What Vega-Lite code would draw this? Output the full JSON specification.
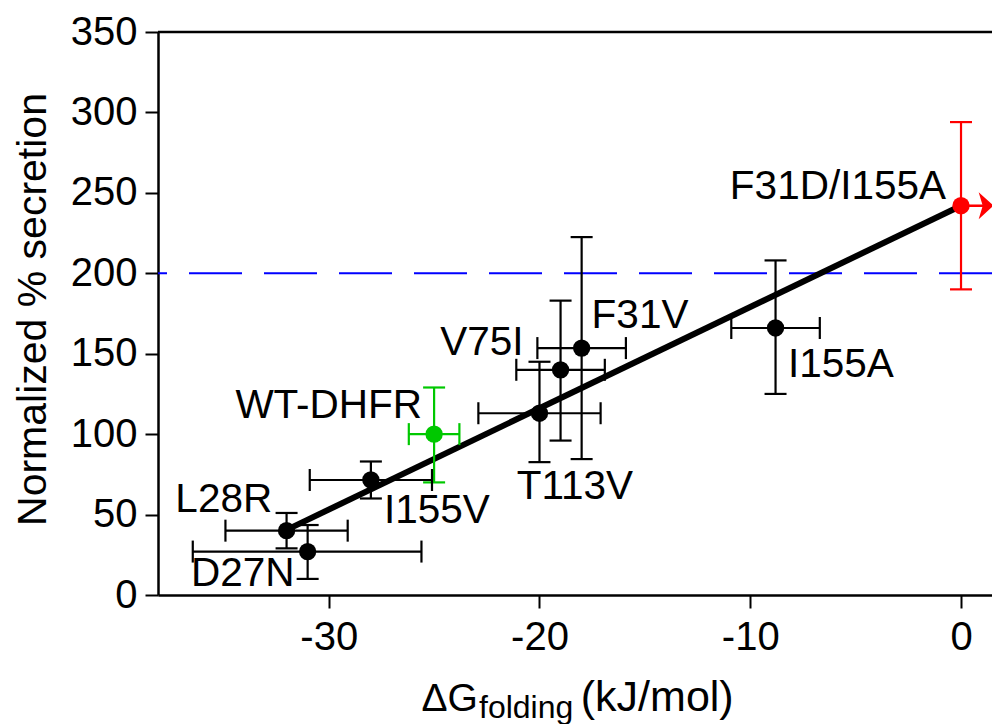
{
  "$schema": "https://vega.github.io/schema/vega-lite/v6.json",
  "width": 834,
  "height": 563,
  "autosize": {"type": "none"},
  "padding": {"left": 158, "top": 32, "right": 0, "bottom": 129},
  "background": "white",
  "config": {
    "view": {"stroke": null},
    "font": "Liberation Sans",
    "axis": {
      "grid": false,
      "domainColor": "black",
      "domainWidth": 2.5,
      "tickColor": "black",
      "tickWidth": 2,
      "tickSize": 13,
      "labelFont": "Liberation Sans",
      "labelFontSize": 40,
      "labelColor": "black",
      "titleFont": "Liberation Sans",
      "titleFontSize": 41,
      "titleFontWeight": "normal",
      "titleColor": "black"
    }
  },
  "datasets": {
    "points": [
      {"name": "L28R", "group": "mutant", "x": -32.0, "y": 40, "xlo": -34.9, "xhi": -29.1, "ylo": 29, "yhi": 51, "lx": -34.98, "ly": 51.6},
      {"name": "D27N", "group": "mutant", "x": -31.0, "y": 27, "xlo": -36.45, "xhi": -25.6, "ylo": 10, "yhi": 43.5, "lx": -34.08, "ly": 5.6},
      {"name": "I155V", "group": "mutant", "x": -28.0, "y": 71.5, "xlo": -30.9, "xhi": -25.1, "ylo": 60, "yhi": 83, "lx": -24.87, "ly": 44.7},
      {"name": "WT-DHFR", "group": "wt", "x": -25.0, "y": 100, "xlo": -26.2, "xhi": -23.8, "ylo": 70, "yhi": 129, "lx": -30.0, "ly": 110},
      {"name": "T113V", "group": "mutant", "x": -20.0, "y": 113, "xlo": -22.9, "xhi": -17.1, "ylo": 82.6, "yhi": 145, "lx": -18.32, "ly": 59.7},
      {"name": "V75I", "group": "mutant", "x": -19.0, "y": 140, "xlo": -21.1, "xhi": -16.9, "ylo": 96, "yhi": 183, "lx": -22.73, "ly": 149.2},
      {"name": "F31V", "group": "mutant", "x": -18.0, "y": 153.5, "xlo": -20.1, "xhi": -15.9, "ylo": 84.5, "yhi": 222.5, "lx": -15.23, "ly": 166},
      {"name": "I155A", "group": "mutant", "x": -8.8, "y": 166, "xlo": -10.9, "xhi": -6.7, "ylo": 125, "yhi": 208, "lx": -5.7, "ly": 135.5},
      {"name": "F31D/I155A", "group": "double", "x": 0.0, "y": 242, "xlo": null, "xhi": null, "ylo": 190, "yhi": 294, "lx": -5.84, "ly": 246}
    ],
    "fit": [
      {"x": -32.0, "y": 40.5},
      {"x": 0.0, "y": 242}
    ]
  },
  "layer": [
    {
      "data": {"name": "points"},
      "mark": {"type": "circle", "size": 0, "opacity": 0},
      "encoding": {
        "x": {"field": "x", "type": "quantitative",
          "scale": {"domain": [-38.1, 1.47], "nice": false, "zero": false},
          "axis": {"title": null, "values": [-30, -20, -10, 0], "labelPadding": 9, "labelFlush": false,
            "labelExpr": "'' + datum.value"}},
        "y": {"field": "y", "type": "quantitative", "title": "Normalized % secretion",
          "scale": {"domain": [0, 350], "nice": false, "zero": false},
          "axis": {"title": "Normalized % secretion", "values": [0, 50, 100, 150, 200, 250, 300, 350],
            "labelPadding": 8, "titleX": -113, "titleY": 277, "titleBaseline": "alphabetic", "titleAlign": "center", "titleAngle": -90}}
      }
    },
    {
      "data": {"values": [{"y": 350}]},
      "mark": {"type": "rule", "color": "black", "strokeWidth": 2.5},
      "encoding": {"y": {"field": "y", "type": "quantitative", "title": "Normalized % secretion"}}
    },
    {
      "data": {"values": [{"y": 200}]},
      "mark": {"type": "rule", "color": "#0000ff", "strokeWidth": 2, "strokeDash": [53, 22]},
      "encoding": {"y": {"field": "y", "type": "quantitative", "title": "Normalized % secretion"}}
    },
    {
      "data": {"name": "fit"},
      "mark": {"type": "line", "color": "black", "strokeWidth": 6},
      "encoding": {
        "x": {"field": "x", "type": "quantitative"},
        "y": {"field": "y", "type": "quantitative", "title": "Normalized % secretion"}
      }
    },
    {
      "data": {"name": "points"},
      "mark": {"type": "errorbar", "ticks": {"size": 22, "thickness": 2.2, "opacity": 1}, "rule": {"strokeWidth": 2.2, "opacity": 1}},
      "encoding": {
        "x": {"field": "x", "type": "quantitative"},
        "y": {"field": "ylo", "type": "quantitative", "title": "Normalized % secretion"},
        "y2": {"field": "yhi"},
        "color": {"field": "group", "type": "nominal", "legend": null,
          "scale": {"domain": ["mutant", "wt", "double"], "range": ["#000000", "#00c800", "#ff0000"]}}
      }
    },
    {
      "data": {"name": "points"},
      "transform": [{"filter": "datum.xlo != null"}],
      "mark": {"type": "errorbar", "ticks": {"size": 22, "thickness": 2.2, "opacity": 1}, "rule": {"strokeWidth": 2.2, "opacity": 1}},
      "encoding": {
        "y": {"field": "y", "type": "quantitative", "title": "Normalized % secretion"},
        "x": {"field": "xlo", "type": "quantitative"},
        "x2": {"field": "xhi"},
        "color": {"field": "group", "type": "nominal", "legend": null}
      }
    },
    {
      "data": {"name": "points"},
      "transform": [{"filter": "datum.group == 'double'"}],
      "mark": {"type": "rule", "color": "#ff0000", "strokeWidth": 2.5},
      "encoding": {
        "x": {"field": "x", "type": "quantitative"},
        "x2": {"datum": 1.1},
        "y": {"field": "y", "type": "quantitative", "title": "Normalized % secretion"}
      }
    },
    {
      "data": {"name": "points"},
      "transform": [{"filter": "datum.group == 'double'"}],
      "mark": {"type": "point", "filled": true, "opacity": 1, "color": "#ff0000", "size": 729,
        "shape": "M-0.55,-1 L0.55,0 L-0.55,1 L-0.25,0 Z", "strokeWidth": 0},
      "encoding": {
        "x": {"datum": 1.19},
        "y": {"field": "y", "type": "quantitative", "title": "Normalized % secretion"}
      }
    },
    {
      "data": {"name": "points"},
      "mark": {"type": "circle", "size": 300, "opacity": 1},
      "encoding": {
        "x": {"field": "x", "type": "quantitative"},
        "y": {"field": "y", "type": "quantitative", "title": "Normalized % secretion"},
        "color": {"field": "group", "type": "nominal", "legend": null}
      }
    },
    {
      "data": {"name": "points"},
      "mark": {"type": "text", "fontSize": 40.5, "align": "center", "baseline": "alphabetic", "color": "black", "font": "Liberation Sans"},
      "encoding": {
        "x": {"field": "lx", "type": "quantitative"},
        "y": {"field": "ly", "type": "quantitative", "title": "Normalized % secretion"},
        "text": {"field": "name"}
      }
    },
    {
      "data": {"values": [{"t": "ΔG", "x": -22.92, "y": -72.1}]},
      "mark": {"type": "text", "fontSize": 39, "align": "right", "baseline": "alphabetic", "color": "black", "font": "Liberation Sans"},
      "encoding": {
        "x": {"field": "x", "type": "quantitative"},
        "y": {"field": "y", "type": "quantitative", "title": "Normalized % secretion"},
        "text": {"field": "t"}
      }
    },
    {
      "data": {"values": [{"t": "folding", "x": -22.87, "y": -76.5}]},
      "mark": {"type": "text", "fontSize": 32, "align": "left", "baseline": "alphabetic", "color": "black", "font": "Liberation Sans"},
      "encoding": {
        "x": {"field": "x", "type": "quantitative"},
        "y": {"field": "y", "type": "quantitative", "title": "Normalized % secretion"},
        "text": {"field": "t"}
      }
    },
    {
      "data": {"values": [{"t": "(kJ/mol)", "x": -18.04, "y": -72.1}]},
      "mark": {"type": "text", "fontSize": 43, "align": "left", "baseline": "alphabetic", "color": "black", "font": "Liberation Sans"},
      "encoding": {
        "x": {"field": "x", "type": "quantitative"},
        "y": {"field": "y", "type": "quantitative", "title": "Normalized % secretion"},
        "text": {"field": "t"}
      }
    }
  ]
}
